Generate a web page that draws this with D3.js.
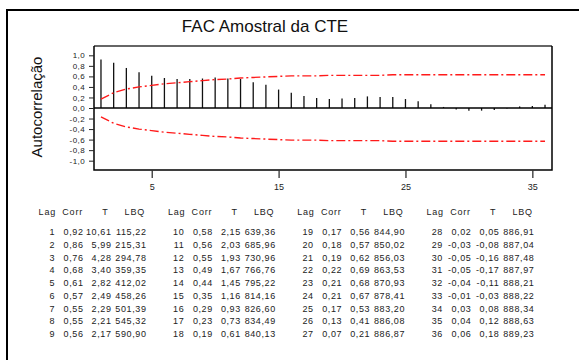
<!DOCTYPE html>
<html>
<head>
<meta charset="utf-8">
<script src="https://cdn.jsdelivr.net/npm/d3@7"></script>
<style>
  html, body { margin: 0; padding: 0; background: #fff; }
  svg { display: block; font-family: "Liberation Sans", Arial, sans-serif; }
</style>
</head>
<body>
<svg id="chart" width="579" height="360"></svg>
<script>
// ---- data ----
const lags = d3.range(1, 37);
const corr = [0.92, 0.86, 0.76, 0.68, 0.61, 0.57, 0.55, 0.55, 0.56,
              0.58, 0.56, 0.55, 0.49, 0.44, 0.35, 0.29, 0.23, 0.19,
              0.17, 0.18, 0.19, 0.22, 0.21, 0.21, 0.17, 0.13, 0.07,
              0.02, -0.03, -0.05, -0.05, -0.04, -0.01, 0.03, 0.04, 0.06];
const tStat = [10.61, 5.99, 4.28, 3.40, 2.82, 2.49, 2.29, 2.21, 2.17,
               2.15, 2.03, 1.93, 1.67, 1.45, 1.16, 0.93, 0.73, 0.61,
               0.56, 0.57, 0.62, 0.69, 0.68, 0.67, 0.53, 0.41, 0.21,
               0.05, -0.08, -0.16, -0.17, -0.11, -0.03, 0.08, 0.12, 0.18];
const lbq = [115.22, 215.31, 294.78, 359.35, 412.02, 458.26, 501.39, 545.32, 590.90,
             639.36, 685.96, 730.96, 766.76, 795.22, 814.16, 826.60, 834.49, 840.13,
             844.90, 850.02, 856.03, 863.53, 870.93, 878.41, 883.20, 886.08, 886.87,
             886.91, 887.04, 887.48, 887.97, 888.21, 888.22, 888.34, 888.63, 889.23];
const upperLimit = [0.17, 0.29, 0.36, 0.40, 0.43, 0.46, 0.48, 0.50, 0.52,
                    0.54, 0.55, 0.57, 0.58, 0.59, 0.60, 0.61, 0.61, 0.61,
                    0.62, 0.62, 0.62, 0.62, 0.62, 0.63, 0.63, 0.63, 0.63,
                    0.63, 0.63, 0.63, 0.63, 0.63, 0.63, 0.63, 0.63, 0.63];
const xTicks = [5, 15, 25, 35];
const yTicks = [1.0, 0.8, 0.6, 0.4, 0.2, 0.0, -0.2, -0.4, -0.6, -0.8, -1.0];
const title = "FAC Amostral da CTE";
const yLabel = "Autocorrelação";
const tableHeaders = ["Lag", "Corr", "T", "LBQ"];

// ---- layout ----
const svg = d3.select("#chart");
const plot = { left: 94, right: 552, top: 46, bottom: 170 };
const fmt2 = v => d3.format(".2f")(v).replace(".", ",").replace("−", "-");
const fmt1 = v => d3.format(".1f")(v).replace(".", ",").replace("−", "-");

const x = d3.scaleLinear().domain([0.45, 36.55]).range([plot.left, plot.right]);
const y = d3.scaleLinear().domain([-1.177, 1.177]).range([plot.bottom, plot.top]);

// outer frame
svg.append("rect").attr("x", 7).attr("y", 10).attr("width", 600).attr("height", 400)
  .attr("fill", "none").attr("stroke", "#000").attr("stroke-width", 2);

// title
svg.append("text").attr("x", 265).attr("y", 32).attr("text-anchor", "middle")
  .attr("font-size", 17).attr("fill", "#111").text(title);

// y label
svg.append("text").attr("transform", "translate(42,107) rotate(-90)")
  .attr("text-anchor", "middle").attr("font-size", 15).attr("fill", "#111").text(yLabel);

// bars
svg.append("g").selectAll("line").data(lags).join("line")
  .attr("x1", d => x(d)).attr("x2", d => x(d))
  .attr("y1", y(0)).attr("y2", (d, i) => y(corr[i]))
  .attr("stroke", "#111").attr("stroke-width", 1.3);

// zero line
svg.append("line").attr("x1", plot.left).attr("x2", plot.right)
  .attr("y1", y(0)).attr("y2", y(0)).attr("stroke", "#000").attr("stroke-width", 1.5);

// confidence limits
const lineU = d3.line().x((d, i) => x(lags[i])).y(d => y(d));
const lineL = d3.line().x((d, i) => x(lags[i])).y(d => y(-d));
[lineU, lineL].forEach(l => {
  svg.append("path").datum(upperLimit).attr("d", l)
    .attr("fill", "none").attr("stroke", "#ff1a1a").attr("stroke-width", 1.4)
    .attr("stroke-dasharray", "9,3,2,3");
});

// plot frame
svg.append("line").attr("x1", plot.left).attr("x2", plot.right).attr("y1", plot.top).attr("y2", plot.top)
  .attr("stroke", "#666").attr("stroke-width", 2);
svg.append("path")
  .attr("d", `M${plot.left},${plot.top}V${plot.bottom}H${plot.right}V${plot.top}`)
  .attr("fill", "none").attr("stroke", "#000").attr("stroke-width", 1.5);

// y axis
const yAxis = d3.axisLeft(y).tickValues(yTicks).tickSize(5).tickPadding(4).tickFormat(fmt1);
const gy = svg.append("g").attr("transform", `translate(${plot.left},0)`).call(yAxis);
gy.select(".domain").remove();
gy.selectAll("line").attr("stroke", "#222");
gy.selectAll("text").attr("font-size", 8).attr("fill", "#222")
  .attr("font-family", "'Liberation Sans', Arial, sans-serif").style("letter-spacing", "0.4px");

// x axis
const xAxis = d3.axisBottom(x).tickValues(xTicks).tickSize(8).tickPadding(6).tickFormat(d3.format("d"));
const gx = svg.append("g").attr("transform", `translate(0,${plot.bottom})`).call(xAxis);
gx.select(".domain").remove();
gx.selectAll("line").attr("stroke", "#333").attr("stroke-width", 1.3);
gx.selectAll("text").attr("font-size", 9).attr("fill", "#222")
  .attr("font-family", "'Liberation Sans', Arial, sans-serif");

// table
const headRight = [56, 83, 108.5, 145];
const colRight = [55, 83.5, 111.5, 146.5];
const blockStep = 129.3;
const headerY = 215;
const rowY0 = 235, rowStep = 12.75;
const table = svg.append("g").attr("font-size", 9).attr("fill", "#222");
for (let b = 0; b < 4; b++) {
  const bx = b * blockStep;
  tableHeaders.forEach((h, c) => {
    table.append("text").attr("x", bx + headRight[c]).attr("y", headerY)
      .attr("text-anchor", "end").style("letter-spacing", "0.8px").text(h);
  });
  for (let r = 0; r < 9; r++) {
    const i = b * 9 + r;
    const vals = [String(lags[i]), fmt2(corr[i]), fmt2(tStat[i]), fmt2(lbq[i])];
    vals.forEach((v, c) => {
      table.append("text").attr("x", bx + colRight[c]).attr("y", rowY0 + r * rowStep)
        .attr("text-anchor", "end").style("letter-spacing", "0.6px").text(v);
    });
  }
}
</script>
</body>
</html>
